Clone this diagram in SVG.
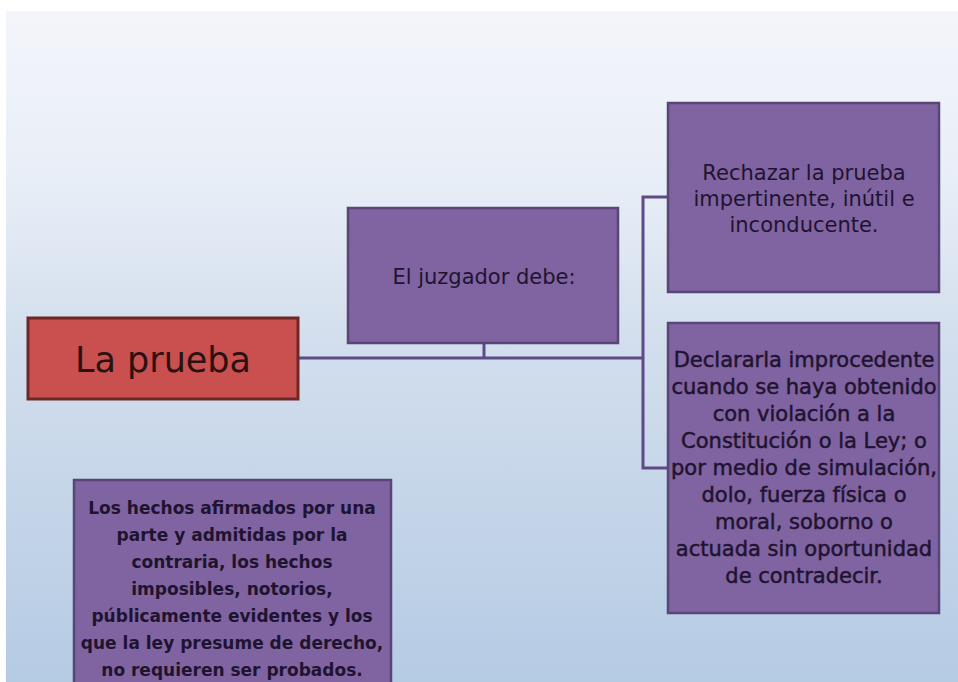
<svg xmlns="http://www.w3.org/2000/svg" width="958" height="682" viewBox="0 0 958 682">
<defs>
<linearGradient id="bg" x1="0" y1="0" x2="0" y2="1">
<stop offset="0" stop-color="#f3f5fa"/>
<stop offset="0.25" stop-color="#e8eef7"/>
<stop offset="0.5" stop-color="#d2deed"/>
<stop offset="1" stop-color="#b5cbe4"/>
</linearGradient>
</defs>
<style>
.box{fill:#8063a1;stroke:#5a4577;stroke-width:2.5}
.red{fill:#c9504e;stroke:#6e2727;stroke-width:3}
.t{font-family:"DejaVu Sans",sans-serif;font-size:21px;fill:#1f1430;text-anchor:middle}
.tb{font-family:"DejaVu Sans",sans-serif;font-size:21px;fill:#1f1430;text-anchor:middle;stroke:#1f1430;stroke-width:0.5}
.tbl{font-family:"DejaVu Sans",sans-serif;font-weight:bold;font-size:17px;fill:#1f1430;text-anchor:middle}
.conn{fill:none;stroke:#5e4a86;stroke-width:3}
</style>
<rect x="0" y="0" width="958" height="682" fill="#ffffff"/>
<rect x="6" y="11" width="952" height="671" fill="url(#bg)"/>
<g id="connectors">
<path class="conn" d="M298 358 H643"/>
<path class="conn" d="M484 343 V358"/>
<path class="conn" d="M668 197 H643 V468 H668"/>
</g>
<g id="la-prueba">
<rect class="red" x="28" y="318" width="270" height="81"/>
<text x="163" y="372" style="font-family:'DejaVu Sans',sans-serif;font-size:35px;fill:#2a1212;text-anchor:middle">La prueba</text>
</g>
<g id="juzgador">
<rect class="box" x="348" y="208" width="270" height="135"/>
<text class="t" x="484" y="284">El juzgador debe:</text>
</g>
<g id="rechazar">
<rect class="box" x="668" y="103" width="271" height="189"/>
<text class="t" x="804" y="180">Rechazar la prueba</text>
<text class="t" x="804" y="206">impertinente, inútil e</text>
<text class="t" x="804" y="232">inconducente.</text>
</g>
<g id="declararla">
<rect class="box" x="668" y="323" width="271" height="290"/>
<text class="tb" x="804" y="367">Declararla improcedente</text>
<text class="tb" x="804" y="394">cuando se haya obtenido</text>
<text class="tb" x="804" y="421">con violación a la</text>
<text class="tb" x="804" y="448">Constitución o la Ley; o</text>
<text class="tb" x="804" y="475">por medio de simulación,</text>
<text class="tb" x="804" y="502">dolo, fuerza física o</text>
<text class="tb" x="804" y="529">moral, soborno o</text>
<text class="tb" x="804" y="556">actuada sin oportunidad</text>
<text class="tb" x="804" y="583">de contradecir.</text>
</g>
<g id="hechos">
<rect class="box" x="74" y="480" width="317" height="215"/>
<text class="tbl" x="232" y="514">Los hechos afirmados por una</text>
<text class="tbl" x="232" y="541">parte y admitidas por la</text>
<text class="tbl" x="232" y="568">contraria, los hechos</text>
<text class="tbl" x="232" y="595">imposibles, notorios,</text>
<text class="tbl" x="232" y="622">públicamente evidentes y los</text>
<text class="tbl" x="232" y="649">que la ley presume de derecho,</text>
<text class="tbl" x="232" y="676">no requieren ser probados.</text>
</g>
</svg>
